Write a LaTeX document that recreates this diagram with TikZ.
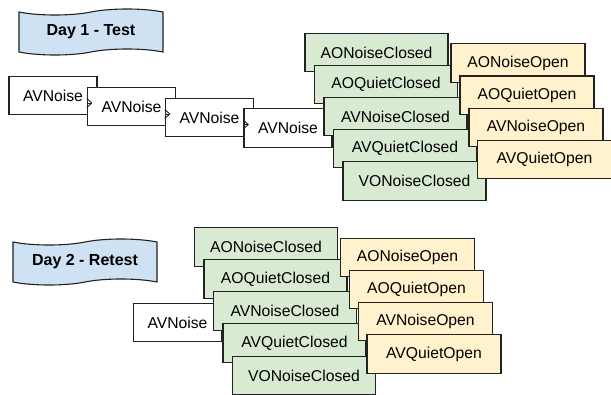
\documentclass[tikz,border=0pt]{standalone}
\usepackage{fontspec}
\setmainfont{Liberation Sans}
\usetikzlibrary{shapes.symbols,arrows.meta}
\definecolor{gfill}{HTML}{D9EAD3}
\definecolor{yfill}{HTML}{FFF2CC}
\definecolor{bfill}{HTML}{CFE2F3}
\definecolor{edgec}{HTML}{222222}
\begin{document}
\begin{tikzpicture}[x=1pt,y=-1pt,
  box/.style={draw=edgec, line width=1.1pt, inner sep=0pt, minimum height=38.5pt, font=\fontsize{15.7}{18}\selectfont},
  avbox/.style={box, fill=white, minimum width=88pt},
  closedbox/.style={box, fill=gfill, minimum width=143pt},
  openbox/.style={box, fill=yfill, minimum width=134pt},
  banner/.style={tape, draw=edgec, line width=1.1pt, fill=bfill, minimum width=144pt, minimum height=46pt, inner sep=0pt, tape bend height=6pt, font=\bfseries\fontsize{16}{18}\selectfont},
  chev/.style={draw=edgec, line width=0.9pt, -{Straight Barb[length=5pt,width=9pt]}}]
\useasboundingbox (0,0) rectangle (611,394);

% ---------- Day 1 ----------
\node[banner] (t1) at (91,32) {Day 1 - Test};

\node[avbox] (a1) at (53,95.5) {AVNoise};
\node[avbox] (a2) at (131.5,106.5) {AVNoise};
\draw[chev] ([xshift=0pt,yshift=3.5pt]a2.west) -- ([xshift=5.5pt,yshift=3.5pt]a2.west);
\node[avbox] (a3) at (209.5,117.5) {AVNoise};
\draw[chev] ([xshift=0pt,yshift=3.5pt]a3.west) -- ([xshift=5.5pt,yshift=3.5pt]a3.west);
\node[avbox] (a4) at (288,128) {AVNoise};
\draw[chev] ([xshift=0pt,yshift=3.5pt]a4.west) -- ([xshift=5.5pt,yshift=3.5pt]a4.west);

\node[closedbox] (c1) at (376.5,52.5) {AONoiseClosed};
\node[closedbox] (c2) at (386,84.5) {AOQuietClosed};
\node[closedbox] (c3) at (395.5,116.5) {AVNoiseClosed};
\node[closedbox] (c4) at (405,148.5) {AVQuietClosed};
\node[closedbox] (c5) at (414.5,181) {VONoiseClosed};

\node[openbox] (o1) at (518,63) {AONoiseOpen};
\node[openbox] (o2) at (527,95.2) {AOQuietOpen};
\node[openbox] (o3) at (536,127.4) {AVNoiseOpen};
\node[openbox] (o4) at (544.5,159.6) {AVQuietOpen};

% ---------- Day 2 ----------
\node[banner] (t2) at (85,262) {Day 2 - Retest};

\node[avbox] (r0) at (177.5,322.5) {AVNoise};

\node[closedbox] (d1) at (266,247) {AONoiseClosed};
\node[closedbox] (d2) at (275.5,279) {AOQuietClosed};
\node[closedbox] (d3) at (285,311) {AVNoiseClosed};
\node[closedbox] (d4) at (294.5,343) {AVQuietClosed};
\node[closedbox] (d5) at (304,375.5) {VONoiseClosed};

\node[openbox] (p1) at (407.5,257.5) {AONoiseOpen};
\node[openbox] (p2) at (416.5,289.5) {AOQuietOpen};
\node[openbox] (p3) at (425.5,321.5) {AVNoiseOpen};
\node[openbox] (p4) at (434,354) {AVQuietOpen};
\end{tikzpicture}
\end{document}
